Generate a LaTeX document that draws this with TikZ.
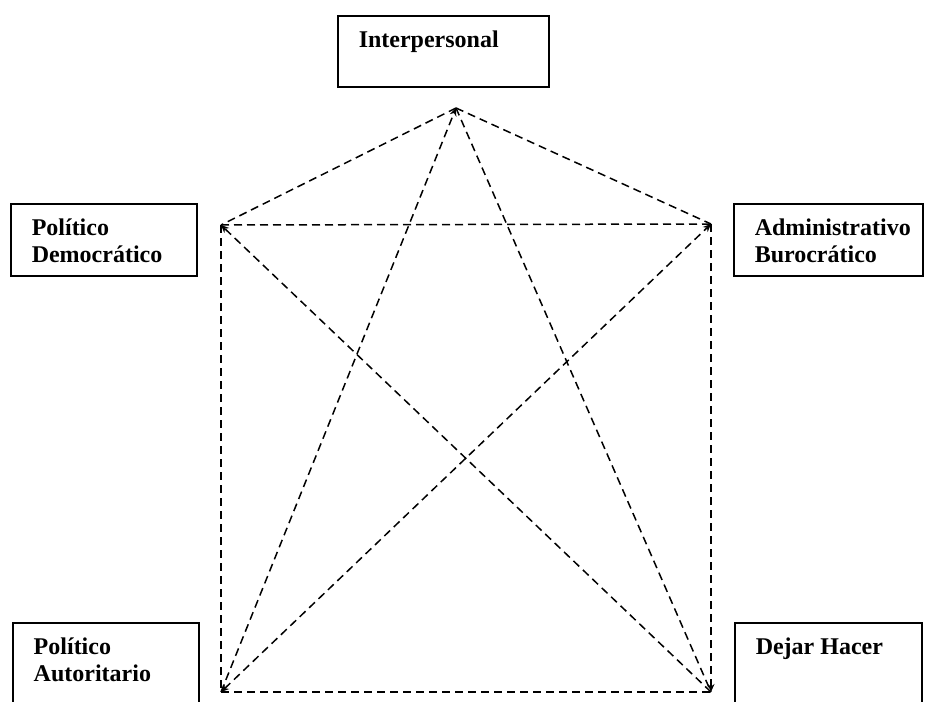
\documentclass[tikz,border=0pt]{standalone}
\usepackage{fontspec}
\setmainfont{Liberation Serif}
\usetikzlibrary{arrows.meta}
\newcommand{\rolbox}[3]{\parbox[t][#1][t]{#2}{\rule{0pt}{16pt}#3}}
\begin{document}
\begin{tikzpicture}[x=0.5pt,y=-0.5pt,
    rol/.style={draw,line width=0.75pt,anchor=north west,inner xsep=10.5pt,inner ysep=0pt,
      font=\fontsize{12pt}{13.5pt}\selectfont\bfseries},
    enlace/.style={line width=0.75pt,dash pattern=on 4pt off 2.5pt},
    >={Stealth[length=4pt,width=3.5pt]}]
      \useasboundingbox (0,0) rectangle (934,702);
      \clip (0,0) rectangle (934,702);
      \draw
        (337,15) node[rol] (inter){\rolbox{35.5pt}{84.5pt}{Interpersonal}}
        (10,203) node[rol] (pdem){\rolbox{36pt}{72pt}{Político\\Democrático}}
        (733,203) node[rol] (adbu){\rolbox{36pt}{73.5pt}{Administrativo\\Burocrático}}
        (12,622) node[rol] (paut){\rolbox{50pt}{72pt}{Político\\Autoritario}}
        (734,622) node[rol] (dhac){\rolbox{50pt}{72.5pt}{Dejar Hacer}};
      \coordinate (t) at (456,108);
      \coordinate (ul) at (221,225);
      \coordinate (ur) at (711,224);
      \coordinate (ll) at (221,692);
      \coordinate (lr) at (711,692);
      \begin{scope}[enlace]
        \draw (t) to (ul);
        \draw (t) to (ur);
        \draw (ul) to (ur);
        \draw (ul) to (ll);
        \draw[->] (ur) to (lr);
        \draw (ll) to (lr);
        \draw[->] (lr) to (ul);
        \draw[<->] (ll) to (ur);
        \draw[->] (ll) to (t);
        \draw (t) to (lr);
      \end{scope}
    \end{tikzpicture}
\end{document}
